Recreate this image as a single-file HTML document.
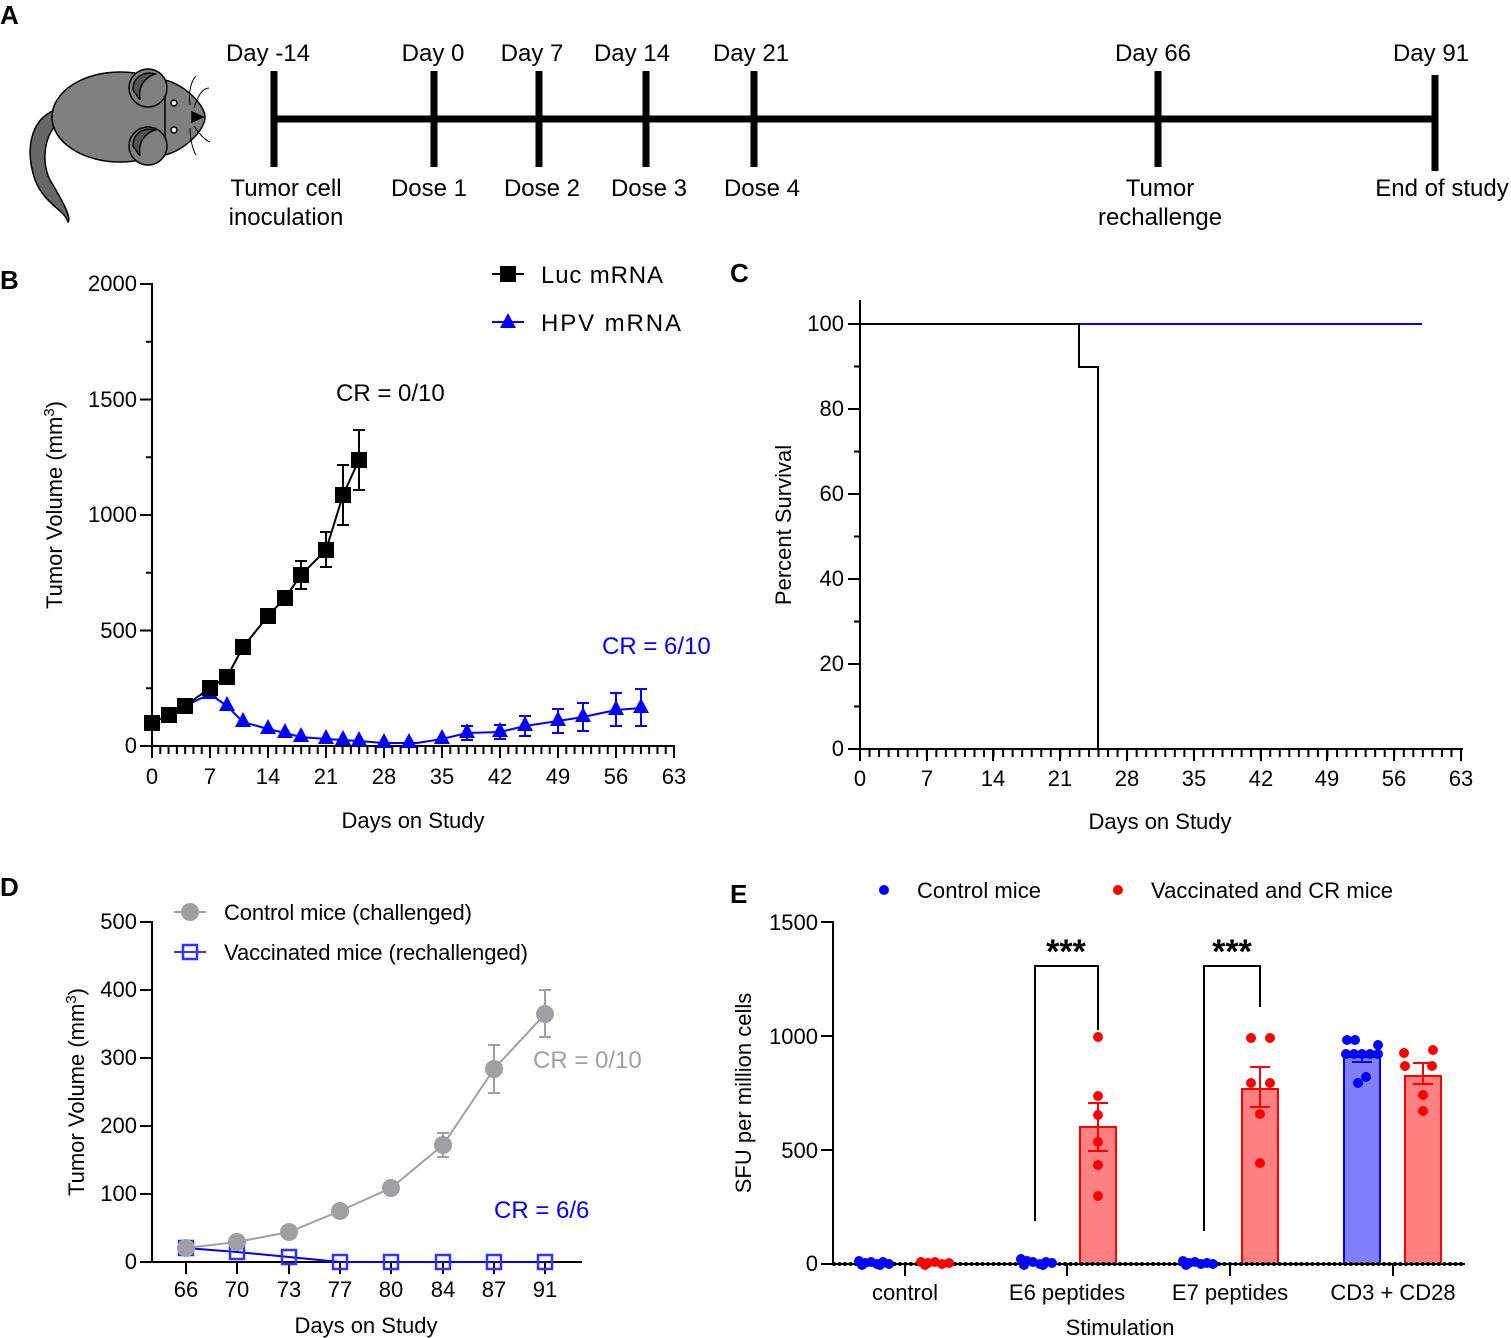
<!DOCTYPE html>
<html><head><meta charset="utf-8"><style>
body{margin:0;background:#fff}
svg{display:block;font-family:"Liberation Sans",Arial,sans-serif}
</style></head><body>
<svg width="1511" height="1338" viewBox="0 0 1511 1338" xmlns="http://www.w3.org/2000/svg">
<!-- Panel A -->
<text x="0" y="24" font-size="26" font-weight="bold">A</text>
<g stroke="#000" stroke-width="1.5">
<path d="M55,110 C30,120 25,150 35,180 C45,205 65,210 68,222 C72,218 62,200 50,180 C40,160 45,130 62,120 Z" fill="#666"/>
<ellipse cx="120" cy="117" rx="68" ry="45" fill="#808080"/>
<path d="M165,80 C185,85 205,105 205,117 C205,130 185,150 165,155 Z" fill="#808080"/>
<circle cx="148" cy="88" r="19" fill="#808080"/>
<path d="M133,90 C133,76 145,71 155,74 C143,78 138,88 140,100 Z" fill="#555"/>
<circle cx="148" cy="146" r="19" fill="#808080"/>
<path d="M133,146 C133,132 145,127 155,130 C143,134 138,144 140,156 Z" fill="#555"/>
<circle cx="174" cy="103" r="3" fill="#fff"/>
<circle cx="174" cy="130" r="3" fill="#fff"/>
<path d="M192,112 L203,117 L192,122 Z" fill="#000"/>
<path d="M190,105 C188,90 192,80 196,76 M194,108 C198,95 203,88 209,88 M190,128 C190,140 193,150 196,155 M194,126 C200,135 205,140 210,142" fill="none" stroke-width="1"/>
</g>
<line x1="273" y1="119" x2="1436" y2="119" stroke="#000" stroke-width="7"/>
<g stroke="#000" stroke-width="7">
<line x1="274" y1="71" x2="274" y2="167"/><line x1="434" y1="71" x2="434" y2="167"/>
<line x1="539" y1="71" x2="539" y2="167"/><line x1="646" y1="71" x2="646" y2="167"/>
<line x1="754" y1="71" x2="754" y2="167"/><line x1="1158" y1="71" x2="1158" y2="167"/>
<line x1="1435" y1="75" x2="1435" y2="171"/>
</g>
<g font-size="24" text-anchor="middle">
<text x="268" y="61">Day -14</text><text x="433" y="61">Day 0</text><text x="532" y="61">Day 7</text>
<text x="632" y="61">Day 14</text><text x="751" y="61">Day 21</text><text x="1153" y="61">Day 66</text>
<text x="1431" y="61">Day 91</text>
<text x="286" y="196">Tumor cell</text><text x="286" y="225">inoculation</text>
<text x="429" y="196">Dose 1</text><text x="542" y="196">Dose 2</text><text x="649" y="196">Dose 3</text>
<text x="762" y="196">Dose 4</text>
<text x="1160" y="196">Tumor</text><text x="1160" y="225">rechallenge</text>
<text x="1442" y="196">End of study</text>
</g>

<!-- Panel B -->
<text x="0" y="289" font-size="26" font-weight="bold">B</text>
<g stroke="#000" stroke-width="2">
<line x1="152" y1="283" x2="152" y2="747"/>
<line x1="151" y1="746" x2="675" y2="746"/>
<line x1="140" y1="284" x2="152" y2="284"/><line x1="140" y1="399.5" x2="152" y2="399.5"/>
<line x1="140" y1="515" x2="152" y2="515"/><line x1="140" y1="630.5" x2="152" y2="630.5"/>
<line x1="140" y1="746" x2="152" y2="746"/>
<line x1="146" y1="341.75" x2="152" y2="341.75"/><line x1="146" y1="457.25" x2="152" y2="457.25"/>
<line x1="146" y1="572.75" x2="152" y2="572.75"/><line x1="146" y1="688.25" x2="152" y2="688.25"/>
<line x1="152" y1="750" x2="675" y2="750" stroke-width="8" stroke-dasharray="2 6.286" stroke-dashoffset="1"/>
<line x1="152" y1="746" x2="152" y2="758"/><line x1="210" y1="746" x2="210" y2="758"/>
<line x1="268" y1="746" x2="268" y2="758"/><line x1="326" y1="746" x2="326" y2="758"/>
<line x1="384" y1="746" x2="384" y2="758"/><line x1="442" y1="746" x2="442" y2="758"/>
<line x1="500" y1="746" x2="500" y2="758"/><line x1="558" y1="746" x2="558" y2="758"/>
<line x1="616" y1="746" x2="616" y2="758"/><line x1="674" y1="746" x2="674" y2="758"/>
</g>
<g font-size="22" text-anchor="end">
<text x="137" y="291">2000</text><text x="137" y="407">1500</text><text x="137" y="522">1000</text>
<text x="137" y="638">500</text><text x="137" y="753">0</text>
</g>
<g font-size="22" text-anchor="middle">
<text x="152" y="784">0</text><text x="210" y="784">7</text><text x="268" y="784">14</text><text x="326" y="784">21</text>
<text x="384" y="784">28</text><text x="442" y="784">35</text><text x="500" y="784">42</text><text x="558" y="784">49</text>
<text x="616" y="784">56</text><text x="674" y="784">63</text>
<text x="413" y="828">Days on Study</text>
</g>
<text transform="translate(62,505) rotate(-90)" font-size="22" text-anchor="middle">Tumor Volume (mm<tspan dy="-8" font-size="15">3</tspan><tspan dy="8">)</tspan></text>
<g stroke="#0000ff" stroke-width="2" fill="none">
<polyline points="152,723 169,715 185,706 210,694 227,706 243,722 268,729 285,733 301,737 326,739 343,740 359,741 384,743 417,743 442,739 467,733 500,732 525,726 558,721 583,717 616,710 641,708"/>
<path d="M467,726v14M461,726h12M461,740h12 M500,725v14M494,725h12M494,739h12 M525,716v20M519,716h12M519,736h12 M558,709v24M552,709h12M552,733h12 M583,703v28M577,703h12M577,731h12 M616,693v33M610,693h12M610,726h12 M641,689v37M635,689h12M635,726h12"/>
</g>
<g fill="#0000ff">
<path d="M0,-9 L8,6 L-8,6 Z" transform="translate(210,693)"/>
<path d="M0,-9 L8,6 L-8,6 Z" transform="translate(227,705)"/><path d="M0,-9 L8,6 L-8,6 Z" transform="translate(243,721)"/>
<path d="M0,-9 L8,6 L-8,6 Z" transform="translate(268,728)"/><path d="M0,-9 L8,6 L-8,6 Z" transform="translate(285,732)"/>
<path d="M0,-9 L8,6 L-8,6 Z" transform="translate(301,736)"/><path d="M0,-9 L8,6 L-8,6 Z" transform="translate(326,738)"/>
<path d="M0,-9 L8,6 L-8,6 Z" transform="translate(343,739)"/><path d="M0,-9 L8,6 L-8,6 Z" transform="translate(359,740)"/>
<path d="M0,-9 L8,6 L-8,6 Z" transform="translate(384,742)"/><path d="M0,-9 L8,6 L-8,6 Z" transform="translate(409,742)"/>
<path d="M0,-9 L8,6 L-8,6 Z" transform="translate(442,738)"/><path d="M0,-9 L8,6 L-8,6 Z" transform="translate(467,732)"/>
<path d="M0,-9 L8,6 L-8,6 Z" transform="translate(500,731)"/><path d="M0,-9 L8,6 L-8,6 Z" transform="translate(525,725)"/>
<path d="M0,-9 L8,6 L-8,6 Z" transform="translate(558,720)"/><path d="M0,-9 L8,6 L-8,6 Z" transform="translate(583,716)"/>
<path d="M0,-9 L8,6 L-8,6 Z" transform="translate(616,709)"/><path d="M0,-9 L8,6 L-8,6 Z" transform="translate(641,707)"/>
</g>
<g stroke="#000" stroke-width="2" fill="none">
<polyline points="152,723 169,715 185,706 210,688 227,677 243,647 268,616 285,598 301,575 326,550 343,495 359,460"/>
<path d="M301,561v28M295,561h12M295,589h12 M326,532v35M320,532h12M320,567h12 M343,465v60M337,465h12M337,525h12 M359,430v60M353,430h12M353,490h12"/>
</g>
<g fill="#000">
<rect x="144" y="715" width="16" height="16"/><rect x="161" y="707" width="16" height="16"/>
<rect x="177" y="698" width="16" height="16"/><rect x="202" y="680" width="16" height="16"/>
<rect x="219" y="669" width="16" height="16"/><rect x="235" y="639" width="16" height="16"/>
<rect x="260" y="608" width="16" height="16"/><rect x="277" y="590" width="16" height="16"/>
<rect x="293" y="567" width="16" height="16"/><rect x="318" y="542" width="16" height="16"/>
<rect x="335" y="487" width="16" height="16"/><rect x="351" y="452" width="16" height="16"/>
</g>
<line x1="492" y1="274" x2="524" y2="274" stroke="#000" stroke-width="2"/><rect x="500" y="266" width="16" height="16"/>
<line x1="492" y1="322" x2="524" y2="322" stroke="#0000ff" stroke-width="2"/><path d="M508,313 L516,328 L500,328 Z" fill="#0000ff"/>
<text x="541" y="283" font-size="24" textLength="122">Luc mRNA</text>
<text x="541" y="331" font-size="24" textLength="140">HPV  mRNA</text>
<text x="336" y="401" font-size="24">CR = 0/10</text>
<text x="602" y="654" font-size="24" fill="#0000ff">CR = 6/10</text>

<!-- Panel C -->
<text x="730" y="282" font-size="26" font-weight="bold">C</text>
<g stroke="#000" stroke-width="2">
<line x1="860" y1="300" x2="860" y2="750"/>
<line x1="859" y1="749" x2="1463" y2="749"/>
<line x1="848" y1="324" x2="860" y2="324"/><line x1="848" y1="409" x2="860" y2="409"/>
<line x1="848" y1="494" x2="860" y2="494"/><line x1="848" y1="579" x2="860" y2="579"/>
<line x1="848" y1="664" x2="860" y2="664"/><line x1="848" y1="749" x2="860" y2="749"/>
<line x1="854" y1="366.5" x2="860" y2="366.5"/><line x1="854" y1="451.5" x2="860" y2="451.5"/>
<line x1="854" y1="536.5" x2="860" y2="536.5"/><line x1="854" y1="621.5" x2="860" y2="621.5"/>
<line x1="854" y1="706.5" x2="860" y2="706.5"/>
<line x1="860" y1="753" x2="1463" y2="753" stroke-width="8" stroke-dasharray="2 7.54" stroke-dashoffset="1"/>
<line x1="860" y1="749" x2="860" y2="761"/><line x1="927" y1="749" x2="927" y2="761"/>
<line x1="993" y1="749" x2="993" y2="761"/><line x1="1060" y1="749" x2="1060" y2="761"/>
<line x1="1127" y1="749" x2="1127" y2="761"/><line x1="1194" y1="749" x2="1194" y2="761"/>
<line x1="1261" y1="749" x2="1261" y2="761"/><line x1="1327" y1="749" x2="1327" y2="761"/>
<line x1="1394" y1="749" x2="1394" y2="761"/><line x1="1461" y1="749" x2="1461" y2="761"/>
</g>
<g font-size="22" text-anchor="end">
<text x="844" y="331">100</text><text x="844" y="416">80</text><text x="844" y="501">60</text>
<text x="844" y="586">40</text><text x="844" y="671">20</text><text x="844" y="756">0</text>
</g>
<g font-size="22" text-anchor="middle">
<text x="860" y="786">0</text><text x="927" y="786">7</text><text x="993" y="786">14</text><text x="1060" y="786">21</text>
<text x="1127" y="786">28</text><text x="1194" y="786">35</text><text x="1261" y="786">42</text><text x="1327" y="786">49</text>
<text x="1394" y="786">56</text><text x="1461" y="786">63</text>
<text x="1160" y="829">Days on Study</text>
</g>
<text transform="translate(791,525) rotate(-90)" font-size="22" text-anchor="middle">Percent Survival</text>
<line x1="1079" y1="324" x2="1422" y2="324" stroke="#0000ff" stroke-width="2"/>
<polyline points="860,324 1079,324 1079,367 1098,367 1098,749" fill="none" stroke="#000" stroke-width="2"/>

<!-- Panel D -->
<text x="0" y="896" font-size="26" font-weight="bold">D</text>
<g stroke="#000" stroke-width="2">
<line x1="152" y1="921" x2="152" y2="1263"/>
<line x1="151" y1="1262" x2="582" y2="1262"/>
<line x1="140" y1="922" x2="152" y2="922"/><line x1="140" y1="990" x2="152" y2="990"/>
<line x1="140" y1="1058" x2="152" y2="1058"/><line x1="140" y1="1126" x2="152" y2="1126"/>
<line x1="140" y1="1194" x2="152" y2="1194"/><line x1="140" y1="1262" x2="152" y2="1262"/>
<line x1="186" y1="1262" x2="186" y2="1274"/><line x1="237" y1="1262" x2="237" y2="1274"/>
<line x1="289" y1="1262" x2="289" y2="1274"/><line x1="340" y1="1262" x2="340" y2="1274"/>
<line x1="391" y1="1262" x2="391" y2="1274"/><line x1="443" y1="1262" x2="443" y2="1274"/>
<line x1="494" y1="1262" x2="494" y2="1274"/><line x1="545" y1="1262" x2="545" y2="1274"/>
</g>
<g font-size="22" text-anchor="end">
<text x="137" y="929">500</text><text x="137" y="997">400</text><text x="137" y="1065">300</text>
<text x="137" y="1133">200</text><text x="137" y="1201">100</text><text x="137" y="1269">0</text>
</g>
<g font-size="22" text-anchor="middle">
<text x="186" y="1297">66</text><text x="237" y="1297">70</text><text x="289" y="1297">73</text><text x="340" y="1297">77</text>
<text x="391" y="1297">80</text><text x="443" y="1297">84</text><text x="494" y="1297">87</text><text x="545" y="1297">91</text>
<text x="366" y="1333">Days on Study</text>
</g>
<text transform="translate(84,1092) rotate(-90)" font-size="22" text-anchor="middle">Tumor Volume  (mm<tspan dy="-8" font-size="15">3</tspan><tspan dy="8">)</tspan></text>
<g stroke="#3333ff" stroke-width="2.5" fill="none">
<polyline points="186,1248 237,1252 289,1257 340,1262 545,1262" stroke="#0000ff" stroke-width="2"/>
<rect x="179" y="1241" width="14" height="14"/><rect x="230" y="1245" width="14" height="14"/>
<rect x="282" y="1250" width="14" height="14"/><rect x="333" y="1255" width="14" height="14"/>
<rect x="384" y="1255" width="14" height="14"/><rect x="436" y="1255" width="14" height="14"/>
<rect x="487" y="1255" width="14" height="14"/><rect x="538" y="1255" width="14" height="14"/>
</g>
<g stroke="#a0a0a4" stroke-width="2" fill="none">
<polyline points="186,1248 237,1242 289,1232 340,1211 391,1188 443,1145 494,1069 545,1014"/>
<path d="M443,1133v24M437,1133h12M437,1157h12 M494,1045v48M488,1045h12M488,1093h12 M545,990v47M539,990h12M539,1037h12"/>
</g>
<g fill="#a0a0a4">
<circle cx="186" cy="1248" r="9"/><circle cx="237" cy="1242" r="9"/><circle cx="289" cy="1232" r="9"/>
<circle cx="340" cy="1211" r="9"/><circle cx="391" cy="1188" r="9"/><circle cx="443" cy="1145" r="9"/>
<circle cx="494" cy="1069" r="9"/><circle cx="545" cy="1014" r="9"/>
</g>
<line x1="174" y1="912" x2="206" y2="912" stroke="#a0a0a4" stroke-width="2"/><circle cx="190" cy="912" r="9" fill="#a0a0a4"/>
<line x1="174" y1="952" x2="206" y2="952" stroke="#3333ff" stroke-width="2"/><rect x="183" y="945" width="14" height="14" fill="none" stroke="#3333ff" stroke-width="2.5"/>
<text x="224" y="920" font-size="22" textLength="248">Control mice (challenged)</text>
<text x="224" y="960" font-size="22" textLength="304">Vaccinated mice (rechallenged)</text>
<text x="533" y="1068" font-size="24" fill="#a0a0a4">CR = 0/10</text>
<text x="494" y="1218" font-size="24" fill="#0000ff">CR = 6/6</text>

<!-- Panel E -->
<text x="730" y="903" font-size="26" font-weight="bold">E</text>
<circle cx="884" cy="890" r="5" fill="#0000ff"/><text x="917" y="898" font-size="22" textLength="124">Control mice</text>
<circle cx="1118" cy="890" r="5" fill="#ff0000"/><text x="1151" y="898" font-size="22" textLength="242">Vaccinated and CR mice</text>
<rect x="1080" y="1127" width="36" height="137" fill="#ff8080" stroke="#ff0000" stroke-width="2"/>
<rect x="1242" y="1089" width="36" height="175" fill="#ff8080" stroke="#ff0000" stroke-width="2"/>
<rect x="1344" y="1057" width="36" height="207" fill="#8080ff" stroke="#0000ff" stroke-width="2"/>
<rect x="1405" y="1076" width="36" height="188" fill="#ff8080" stroke="#ff0000" stroke-width="2"/>
<g stroke="#ff0000" stroke-width="2" fill="none">
<path d="M1098,1103v48M1088,1103h20M1088,1151h20 M1260,1067v40M1250,1067h20M1250,1107h20 M1423,1063v21M1413,1063h20M1413,1084h20"/>
</g>
<path d="M1352,1062h20M1362,1057v6" stroke="#0000ff" stroke-width="2"/>
<g stroke="#000" stroke-width="2" fill="none">
<line x1="833" y1="921" x2="833" y2="1265"/>
<line x1="821" y1="922" x2="833" y2="922"/><line x1="821" y1="1036" x2="833" y2="1036"/>
<line x1="821" y1="1150" x2="833" y2="1150"/><line x1="821" y1="1264" x2="833" y2="1264"/>
<line x1="832" y1="1264" x2="1465" y2="1264"/>
<line x1="834" y1="1264" x2="1465" y2="1264" stroke-width="4" stroke-dasharray="0 5.5" stroke-linecap="round"/>
<line x1="905" y1="1264" x2="905" y2="1276"/><line x1="1067" y1="1264" x2="1067" y2="1276"/>
<line x1="1230" y1="1264" x2="1230" y2="1276"/><line x1="1393" y1="1264" x2="1393" y2="1276"/>
<polyline points="1035,1221 1035,966 1098,966 1098,1030"/>
<polyline points="1204,1231 1204,966 1260,966 1260,1007"/>
</g>
<g fill="#0000ff">
<circle cx="859" cy="1261" r="5"/><circle cx="865" cy="1263" r="5"/><circle cx="871" cy="1262" r="5"/><circle cx="877" cy="1264" r="5"/>
<circle cx="883" cy="1262" r="5"/><circle cx="889" cy="1264" r="5"/><circle cx="862" cy="1265" r="5"/><circle cx="880" cy="1265" r="5"/>
<circle cx="1021" cy="1259" r="5"/><circle cx="1027" cy="1261" r="5"/><circle cx="1033" cy="1262" r="5"/><circle cx="1040" cy="1264" r="5"/>
<circle cx="1046" cy="1262" r="5"/><circle cx="1052" cy="1263" r="5"/><circle cx="1024" cy="1265" r="5"/><circle cx="1043" cy="1265" r="5"/>
<circle cx="1183" cy="1261" r="5"/><circle cx="1189" cy="1263" r="5"/><circle cx="1195" cy="1262" r="5"/><circle cx="1201" cy="1264" r="5"/>
<circle cx="1207" cy="1263" r="5"/><circle cx="1213" cy="1264" r="5"/><circle cx="1186" cy="1265" r="5"/>
<circle cx="1347" cy="1040" r="5"/><circle cx="1355" cy="1040" r="5"/><circle cx="1378" cy="1045" r="5"/>
<circle cx="1346" cy="1054" r="5"/><circle cx="1354" cy="1054" r="5"/><circle cx="1362" cy="1054" r="5"/><circle cx="1370" cy="1054" r="5"/><circle cx="1378" cy="1054" r="5"/>
<circle cx="1358" cy="1083" r="5"/><circle cx="1366" cy="1077" r="5"/>
</g>
<g fill="#ff0000">
<circle cx="921" cy="1262" r="5"/><circle cx="928" cy="1263" r="5"/><circle cx="935" cy="1262" r="5"/><circle cx="942" cy="1264" r="5"/><circle cx="949" cy="1263" r="5"/><circle cx="925" cy="1265" r="5"/>
<circle cx="1098" cy="1037" r="5"/><circle cx="1098" cy="1096" r="5"/><circle cx="1098" cy="1115" r="5"/><circle cx="1098" cy="1142" r="5"/><circle cx="1098" cy="1165" r="5"/><circle cx="1098" cy="1196" r="5"/>
<circle cx="1251" cy="1038" r="5"/><circle cx="1270" cy="1038" r="5"/><circle cx="1251" cy="1083" r="5"/><circle cx="1270" cy="1083" r="5"/><circle cx="1260" cy="1114" r="5"/><circle cx="1260" cy="1163" r="5"/>
<circle cx="1404" cy="1053" r="5"/><circle cx="1433" cy="1050" r="5"/><circle cx="1405" cy="1066" r="5"/><circle cx="1432" cy="1066" r="5"/><circle cx="1423" cy="1095" r="5"/><circle cx="1423" cy="1111" r="5"/>
</g>
<g font-size="22" text-anchor="end">
<text x="818" y="930">1500</text><text x="818" y="1044">1000</text><text x="818" y="1158">500</text><text x="818" y="1271">0</text>
</g>
<g font-size="22" text-anchor="middle">
<text x="905" y="1300">control</text><text x="1067" y="1300">E6 peptides</text>
<text x="1230" y="1300">E7 peptides</text><text x="1393" y="1300">CD3 + CD28</text>
<text x="1120" y="1335">Stimulation</text>
<text x="1066" y="963" font-size="34" font-weight="bold">***</text>
<text x="1232" y="963" font-size="34" font-weight="bold">***</text>
</g>
<text transform="translate(751,1093) rotate(-90)" font-size="22" text-anchor="middle">SFU per million cells</text>
</svg>
</body></html>
